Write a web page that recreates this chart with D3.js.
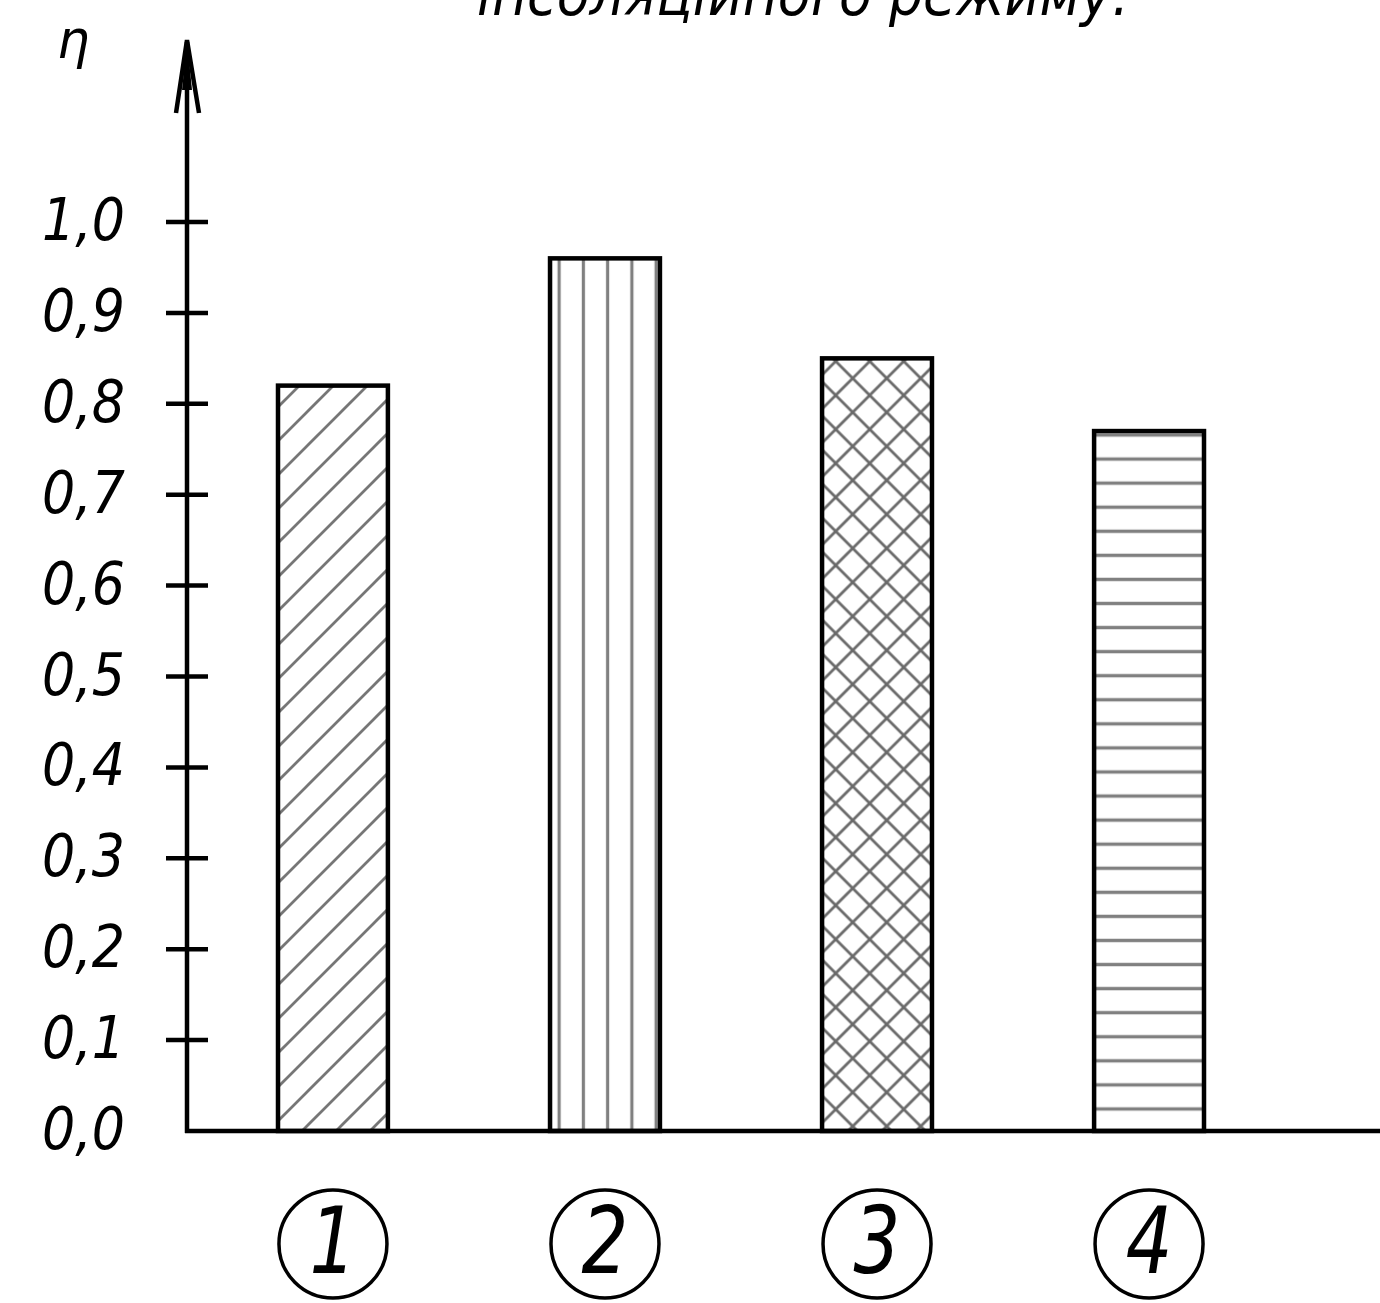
<!DOCTYPE html>
<html>
<head>
<meta charset="utf-8">
<script src="https://cdn.jsdelivr.net/npm/d3@7"></script>
<style>
  html, body { margin: 0; padding: 0; background: #fff; }
  svg { display: block; }
  text { font-family: "DejaVu Sans", sans-serif; font-style: italic; fill: #000; }
</style>
</head>
<body>
<script>
// ---- data ----
const categories = ["1", "2", "3", "4"];
const values = [0.82, 0.96, 0.85, 0.77];
const tickValues = [0, 0.1, 0.2, 0.3, 0.4, 0.5, 0.6, 0.7, 0.8, 0.9, 1.0];
const tickLabels = ["0,0", "0,1", "0,2", "0,3", "0,4", "0,5", "0,6", "0,7", "0,8", "0,9", "1,0"];
const axisLabel = "η";
const titleText = "інсоляційного режиму.";

// ---- layout ----
const W = 1380, H = 1303;
const axisX = 187;
const svg = d3.select("body").append("svg").attr("width", W).attr("height", H);

const y = d3.scaleLinear().domain([0, 1]).range([1131, 222]);
const x = d3.scaleBand().domain(categories).range([278, 1204]).paddingInner(0.596).paddingOuter(0);

// ---- patterns ----
const defs = svg.append("defs");
const hatch = "#767676";
const pDiag = defs.append("pattern").attr("id", "p-diag").attr("patternUnits", "userSpaceOnUse")
  .attr("x", 0).attr("y", 5).attr("width", 34).attr("height", 34);
pDiag.append("path").attr("d", "M0,34L34,0M-8.5,8.5L8.5,-8.5M25.5,42.5L42.5,25.5")
  .attr("stroke", hatch).attr("stroke-width", 2.8).attr("fill", "none");
const pVert = defs.append("pattern").attr("id", "p-vert").attr("patternUnits", "userSpaceOnUse")
  .attr("x", 547).attr("y", 0).attr("width", 24.25).attr("height", 50);
pVert.append("line").attr("x1", 12.125).attr("x2", 12.125).attr("y1", -1).attr("y2", 51)
  .attr("stroke", "#808080").attr("stroke-width", 3.2);
const pCross = defs.append("pattern").attr("id", "p-cross").attr("patternUnits", "userSpaceOnUse")
  .attr("x", 835.7).attr("y", 361.3).attr("width", 34).attr("height", 34);
pCross.append("path").attr("d", "M0,34L34,0M-8.5,8.5L8.5,-8.5M25.5,42.5L42.5,25.5M0,0L34,34M-8.5,25.5L8.5,42.5M25.5,-8.5L42.5,8.5")
  .attr("stroke", "#6a6a6a").attr("stroke-width", 2.8).attr("fill", "none");
const pHor = defs.append("pattern").attr("id", "p-hor").attr("patternUnits", "userSpaceOnUse")
  .attr("x", 0).attr("y", 435 - 12.035).attr("width", 50).attr("height", 24.07);
pHor.append("line").attr("y1", 12.035).attr("y2", 12.035).attr("x1", -1).attr("x2", 51)
  .attr("stroke", "#808080").attr("stroke-width", 3.2);
const patternIds = ["p-diag", "p-vert", "p-cross", "p-hor"];

// ---- title (cut at top, as in the reference) ----
svg.append("text").attr("x", 477).attr("y", 15)
  .attr("font-size", 58).attr("textLength", 652).attr("lengthAdjust", "spacingAndGlyphs")
  .text(titleText);

// ---- bars ----
svg.append("g").selectAll("rect").data(values).join("rect")
  .attr("x", (d, i) => x(categories[i]))
  .attr("y", d => y(d))
  .attr("width", x.bandwidth())
  .attr("height", d => y(0) - y(d))
  .attr("fill", (d, i) => `url(#${patternIds[i]})`)
  .attr("stroke", "#000").attr("stroke-width", 4.5);

// ---- y axis ----
const ax = svg.append("g");
ax.append("line").attr("x1", axisX).attr("x2", axisX).attr("y1", y(0) + 2).attr("y2", 42)
  .attr("stroke", "#000").attr("stroke-width", 4.5);
ax.append("path").attr("d", `M${axisX - 11},113L${axisX},40L${axisX + 12},113`)
  .attr("fill", "none").attr("stroke", "#000").attr("stroke-width", 4.5).attr("stroke-linejoin", "miter");
ax.append("path").attr("d", `M${axisX},40L${axisX - 5},90L${axisX + 5},90Z`).attr("fill", "#000");

tickValues.forEach((v, i) => {
  if (v > 0) {
    ax.append("line").attr("x1", axisX - 21).attr("x2", axisX + 21)
      .attr("y1", y(v)).attr("y2", y(v)).attr("stroke", "#000").attr("stroke-width", 4.5);
  }
  ax.append("text").attr("transform", `translate(42,${y(v) + 18}) scale(0.9,1)`)
    .attr("font-size", 58).text(tickLabels[i]);
});

svg.append("text").attr("transform", "translate(57,58) scale(0.95,1)").attr("font-size", 54).text(axisLabel);

// ---- x axis ----
svg.append("line").attr("x1", axisX - 2).attr("x2", W).attr("y1", y(0)).attr("y2", y(0))
  .attr("stroke", "#000").attr("stroke-width", 4.5);

// ---- category labels ----
const cl = svg.append("g");
categories.forEach(c => {
  const cx = x(c) + x.bandwidth() / 2;
  cl.append("circle").attr("cx", cx).attr("cy", 1244).attr("r", 54)
    .attr("fill", "none").attr("stroke", "#000").attr("stroke-width", 3.5);
  cl.append("text").attr("transform", `translate(${cx},1273) scale(0.8,1)`)
    .attr("text-anchor", "middle").attr("font-size", 92).text(c);
});
</script>
</body>
</html>
